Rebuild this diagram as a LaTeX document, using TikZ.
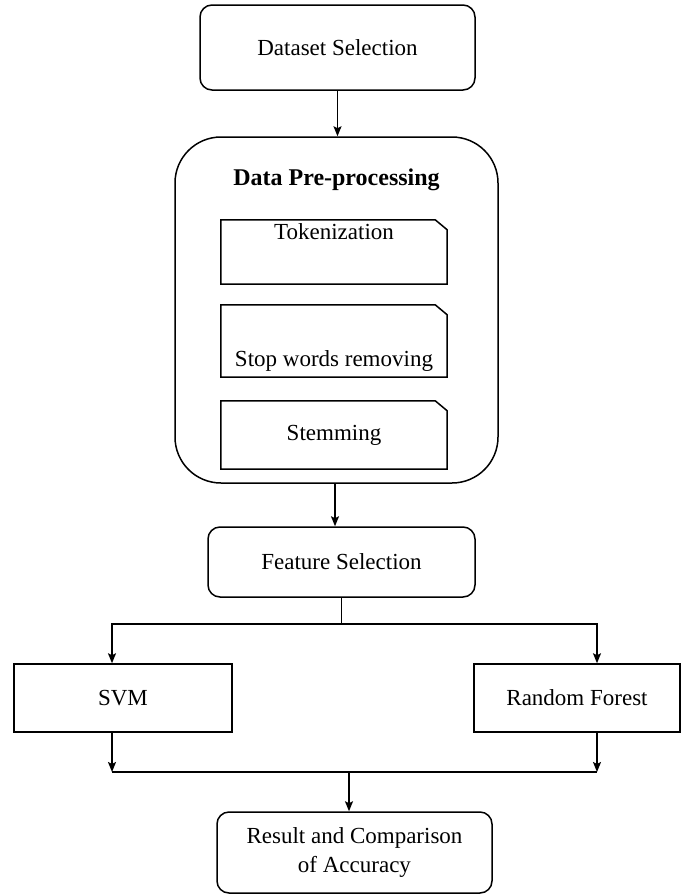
\documentclass[tikz,border=0pt]{standalone}
\usepackage{fontspec}
\setmainfont{Liberation Serif}
\usetikzlibrary{arrows.meta}

\tikzset{
  roundbox/.style={draw, rounded corners=12pt, line width=1.5pt, align=center},
  plainbox/.style={draw, line width=1.5pt},
  notebox/.style={minimum width=226pt,
    append after command={\pgfextra{
      \draw[line width=1.5pt] (\tikzlastnode.south west) -- (\tikzlastnode.north west)
      -- ([xshift=-12pt]\tikzlastnode.north east) -- ([yshift=-10pt]\tikzlastnode.north east)
      -- (\tikzlastnode.south east) -- cycle;}}},
  arr/.style={line width=1.5pt, -{Stealth[length=10pt,width=8pt,inset=2pt]}},
  ln/.style={line width=1.5pt}
}

\begin{document}
\begin{tikzpicture}[x=1pt,y=-1pt,font=\fontsize{23}{29}\selectfont]
	\useasboundingbox (0,0) rectangle (681,895);
	
	% first step
	\node[roundbox, minimum width=275pt, minimum height=85pt] (dataset) at (337.5,47.5) {Dataset Selection};
	
	% pre-processing block with its three steps
	\node[roundbox, rounded corners=46pt, minimum width=323pt, minimum height=346pt] (prep) at (336.5,310) {};
	\node[font=\fontsize{24}{29}\selectfont\bfseries] (preptitle) at (336.5,180) {Data Pre-processing};
	\node[notebox, minimum height=64pt, label={[anchor=north]north:Tokenization}] (tok) at (334,252) {};
	\node[notebox, minimum height=72pt, label={[anchor=south, yshift=2pt]south:Stop words removing}] (stop) at (334,341) {};
	\node[notebox, minimum height=68pt] (stem) at (334,435) {Stemming};
	
	\node[roundbox, minimum width=267pt, minimum height=70pt] (feat) at (341.5,562) {Feature Selection};
	
	% the two classifiers
	\node[plainbox, minimum width=218pt, minimum height=68pt] (svm) at (123,698) {SVM};
	\node[plainbox, minimum width=206pt, minimum height=68pt] (rf) at (577,698) {Random Forest};
	
	\node[roundbox, minimum width=275pt, minimum height=81pt] (result) at (354.5,852.5) {Result and Comparison\\of Accuracy};
	
	\coordinate (split) at (341.5,624);
	\coordinate (merge) at (349,772);
	
	% connectors
	\draw[arr] (dataset.south) -- (dataset.south |- prep.north);
	\draw[arr] ([xshift=-1.5pt]prep.south) -- ([xshift=-1.5pt]prep.south |- feat.north);
	\draw[ln] (feat.south) -- (split);
	\draw[ln] ([xshift=-11pt]svm.north |- split) -- ([xshift=20pt]rf.north |- split);
	\draw[arr] (split) -| ([xshift=-11pt]svm.north);
	\draw[arr] (split) -| ([xshift=20pt]rf.north);
	
	\draw[arr] ([xshift=-11pt]svm.south) -- ([xshift=-11pt]svm.south |- merge);
	\draw[arr] ([xshift=20pt]rf.south) -- ([xshift=20pt]rf.south |- merge);
	\draw[ln] ([xshift=-11pt]svm.south |- merge) -- ([xshift=20pt]rf.south |- merge);
	\draw[arr] (merge) -- (merge |- result.north);
\end{tikzpicture}
\end{document}
